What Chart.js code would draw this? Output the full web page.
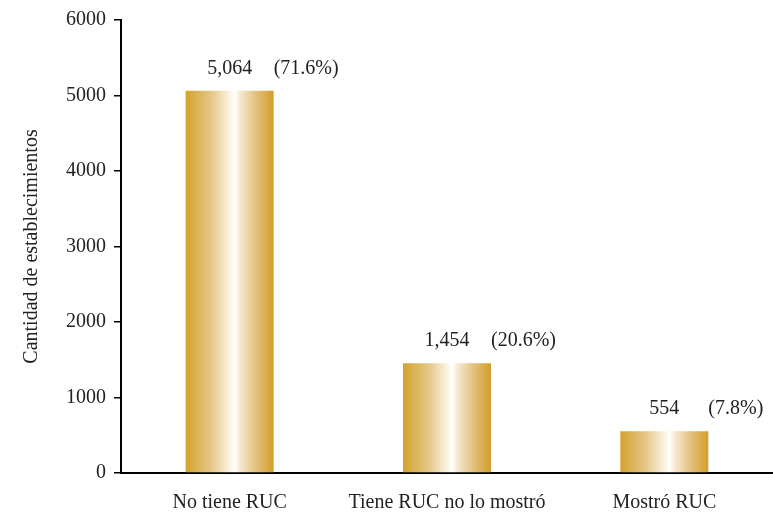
<!DOCTYPE html>
<html>
<head>
<meta charset="utf-8">
<script src="https://cdn.jsdelivr.net/npm/chart.js@4"></script>
<style>
  body { margin: 0; background: #fff; }
</style>
</head>
<body>
<canvas id="chart" width="773" height="513"></canvas>
<script>
const categories = ["No tiene RUC", "Tiene RUC no lo mostró", "Mostró RUC"];
const counts = [5064, 1454, 554];
const percents = ["(71.6%)", "(20.6%)", "(7.8%)"];
const yTicks = [0, 1000, 2000, 3000, 4000, 5000, 6000];

const serif = "'Liberation Serif', 'Times New Roman', serif";
const fontSize = 20;
const barPct = 0.405;

// gold gradient across each bar, white streak in the middle
function goldFill(ctx) {
  const chart = ctx.chart;
  const xs = chart.scales.x;
  if (!xs || !chart.chartArea || ctx.dataIndex == null) return "#D4A12E";
  const cx = xs.getPixelForValue(ctx.dataIndex);
  const half = (xs.width / categories.length) * barPct / 2;
  if (!isFinite(cx) || !isFinite(half)) return "#D4A12E";
  const g = chart.ctx.createLinearGradient(cx - half, 0, cx + half, 0);
  g.addColorStop(0, "#D4A12E");
  g.addColorStop(0.3, "#E6C88A");
  g.addColorStop(0.5, "#FBF3E4");
  g.addColorStop(0.56, "#FFFFFF");
  g.addColorStop(0.62, "#F6E9D0");
  g.addColorStop(0.8, "#E3C07E");
  g.addColorStop(1, "#D29E2A");
  return g;
}

const barLabels = {
  id: "barLabels",
  afterDatasetsDraw(chart) {
    const c = chart.ctx;
    const meta = chart.getDatasetMeta(0);
    c.save();
    c.font = fontSize + "px " + serif;
    c.fillStyle = "#222";
    c.textBaseline = "middle";
    meta.data.forEach((bar, i) => {
      const y = bar.y - 22;
      c.textAlign = "center";
      c.fillText(counts[i].toLocaleString("en-US"), bar.x, y);
      c.textAlign = "left";
      c.fillText(percents[i], bar.x + bar.width / 2, y);
    });
    c.restore();
  }
};

new Chart(document.getElementById("chart"), {
  type: "bar",
  data: {
    labels: categories,
    datasets: [{
      data: counts,
      backgroundColor: goldFill,
      barPercentage: barPct,
      categoryPercentage: 1
    }]
  },
  options: {
    responsive: false,
    animation: false,
    layout: { padding: { top: 14, right: 0, left: 20, bottom: -12 } },
    plugins: {
      legend: { display: false },
      tooltip: { enabled: false }
    },
    scales: {
      x: {
        grid: { display: false },
        border: { display: true, color: "#000", width: 2 },
        ticks: { color: "#222", font: { family: serif, size: fontSize }, padding: 10 }
      },
      y: {
        min: 0,
        max: 6000,
        afterBuildTicks(axis) { axis.ticks = yTicks.map(v => ({ value: v })); },
        grid: { drawOnChartArea: false, drawTicks: true, tickLength: 7, color: "#000", lineWidth: 1.5 },
        border: { display: true, color: "#000", width: 2 },
        ticks: {
          color: "#222",
          font: { family: serif, size: fontSize },
          padding: 8,
          callback: v => String(v)
        },
        title: {
          display: true,
          text: "Cantidad de establecimientos",
          color: "#222",
          font: { family: serif, size: fontSize },
          padding: { top: 0, bottom: 14 }
        }
      }
    }
  },
  plugins: [barLabels]
});
</script>
</body>
</html>
